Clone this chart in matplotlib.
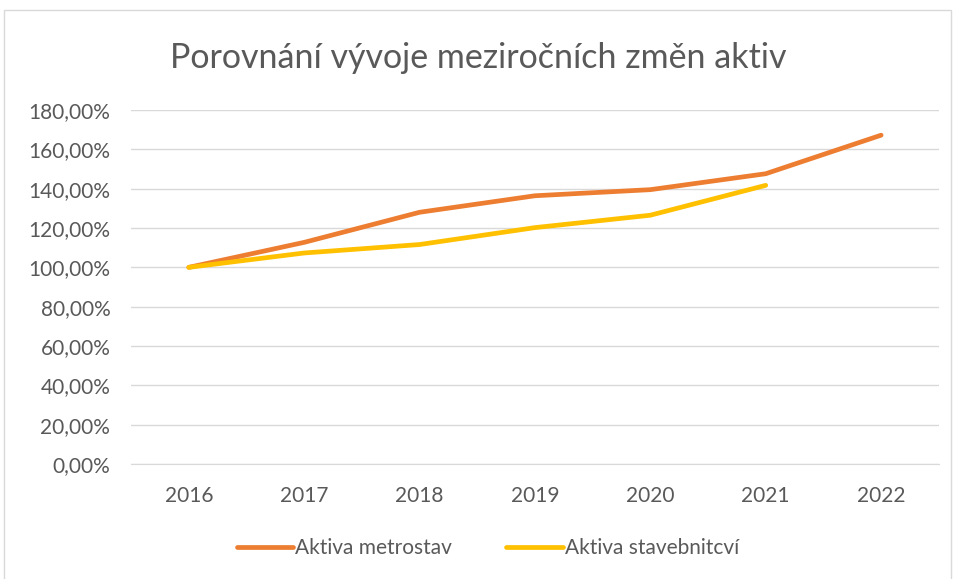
import matplotlib
matplotlib.use("Agg")
from matplotlib import pyplot as plt
from matplotlib.ticker import FuncFormatter
from matplotlib.patches import Rectangle

years = ['2016', '2017', '2018', '2019', '2020', '2021', '2022']
metrostav = [100.0, 112.7, 128.0, 136.4, 139.5, 147.6, 167.2]
stavebnictvi = [100.0, 107.3, 111.6, 120.2, 126.5, 141.7]

plt.rcParams['font.family'] = ['Lato', 'DejaVu Sans']

fig = plt.figure(figsize=(9.57, 5.79), dpi=100)
ax = fig.add_axes([0.137, 0.1986, 0.844, 0.6114])

# chart frame
fig.patches.append(Rectangle((0.004, -0.01), 0.99, 0.993, transform=fig.transFigure,
                             fill=False, edgecolor='#d9d9d9', linewidth=1))

x = list(range(len(years)))
ax.plot(x, metrostav, color='#ED7D31', linewidth=3.4, solid_capstyle='round',
        label='Aktiva metrostav', zorder=3)
ax.plot(x[:len(stavebnictvi)], stavebnictvi, color='#FFC000', linewidth=3.4,
        solid_capstyle='round', label='Aktiva stavebnitcví', zorder=3)

ax.set_xlim(-0.5, len(years) - 0.5)
ax.set_ylim(0, 180)
ax.set_yticks(range(0, 181, 20))
ax.yaxis.set_major_formatter(FuncFormatter(lambda v, p: ('%.2f%%' % v).replace('.', ',')))
ax.set_xticks(x)
ax.set_xticklabels(years)
ax.grid(axis='y', color='#d9d9d9', linewidth=1)
ax.set_axisbelow(True)
for s in ['top', 'right', 'left']:
    ax.spines[s].set_visible(False)
ax.spines['bottom'].set_color('#d9d9d9')
ax.tick_params(axis='both', length=0, labelsize=15, labelcolor='#595959')
ax.tick_params(axis='x', pad=16)
ax.tick_params(axis='y', pad=15)

fig.text(0.5, 0.899, 'Porovnání vývoje meziročních změn aktiv', ha='center', va='center',
         fontsize=24.5, color='#595959')

fig.legend(loc='center', bbox_to_anchor=(0.51, 0.053), ncol=2, frameon=False,
           fontsize=15, labelcolor='#595959', handlelength=2.7, handletextpad=0.1,
           columnspacing=2.6)

fig.savefig('out.png', dpi=100)
